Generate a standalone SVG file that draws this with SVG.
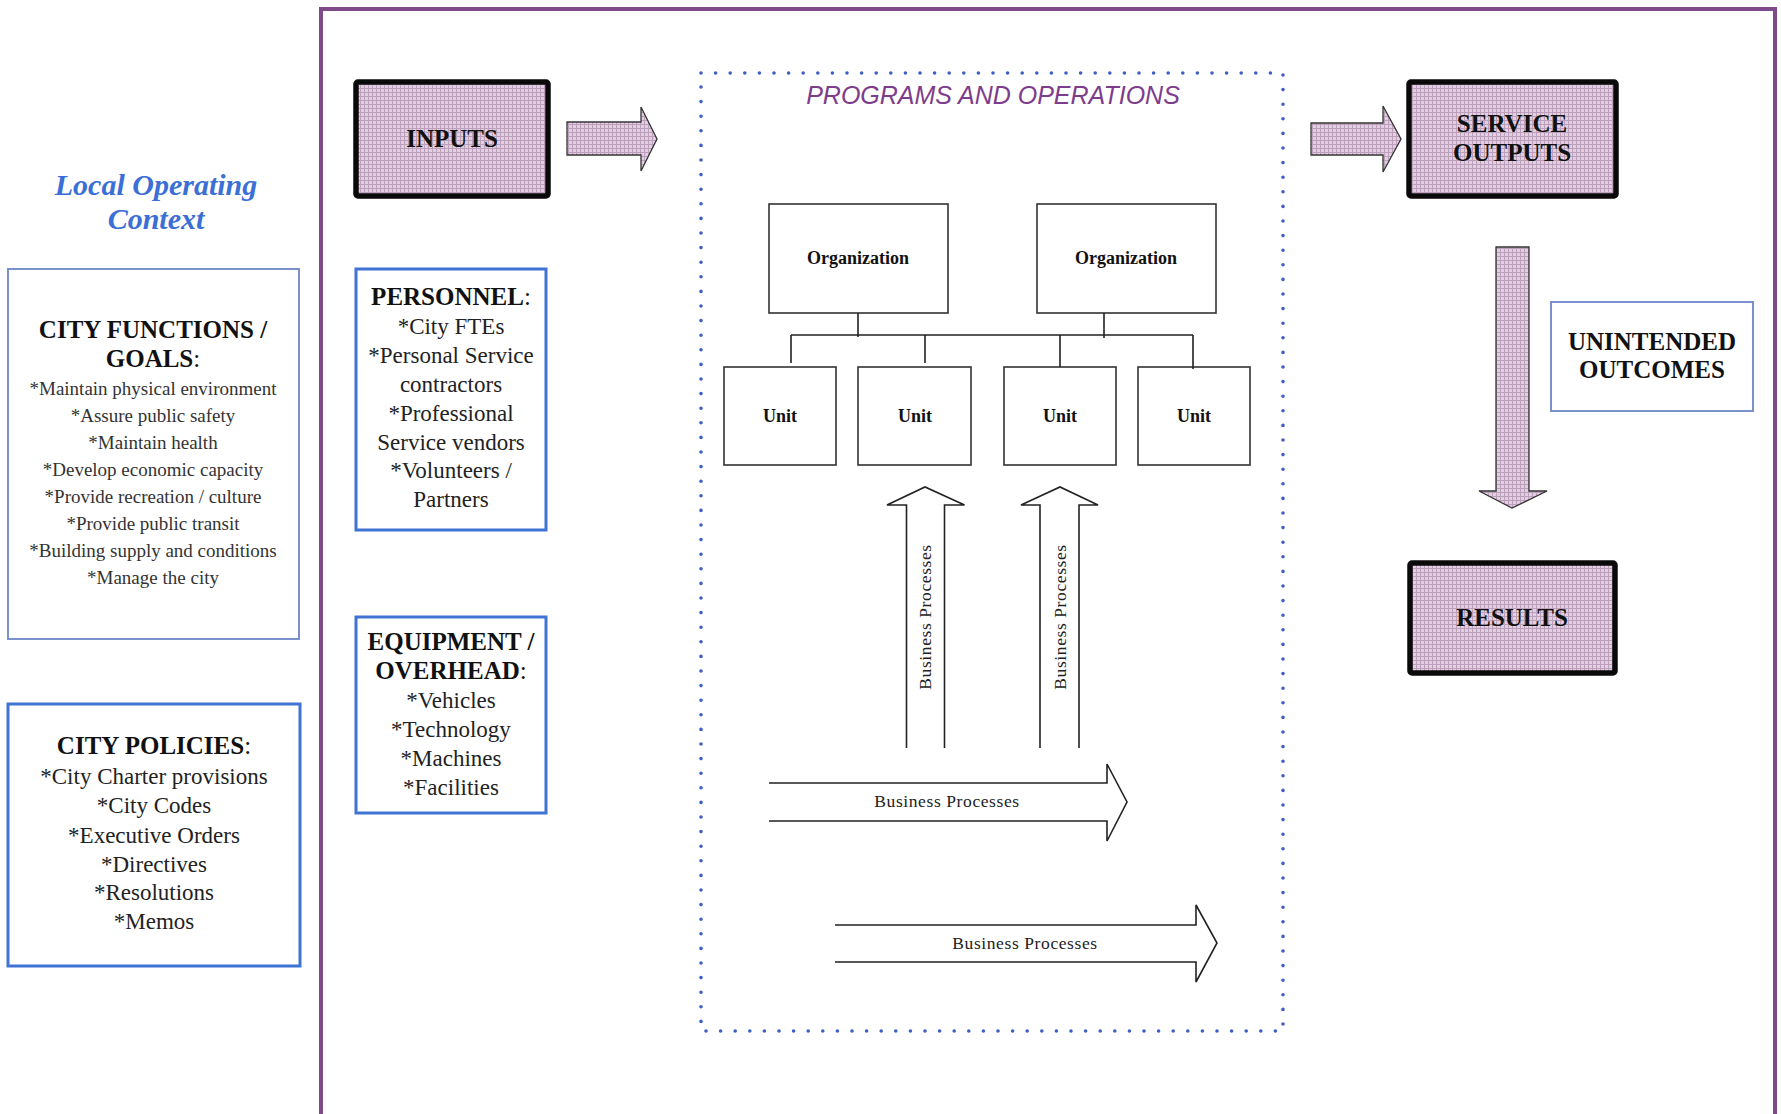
<svg xmlns="http://www.w3.org/2000/svg" width="1781" height="1114" viewBox="0 0 1781 1114">
<defs>
<pattern id="grid" width="4" height="4" patternUnits="userSpaceOnUse">
<rect width="4" height="4" fill="#e2d0e2"/>
<path d="M0 0.5H4M0.5 0V4" stroke="#bb9fbb" stroke-width="1"/>
</pattern>
<style>
.serif{font-family:"Liberation Serif","Times New Roman",serif;}
.hdr{font-family:"Liberation Serif","Times New Roman",serif;font-weight:bold;font-size:25px;fill:#111;text-anchor:middle;}
.item{font-family:"Liberation Serif","Times New Roman",serif;font-size:23px;fill:#222;text-anchor:middle;}
.item2{font-family:"Liberation Serif","Times New Roman",serif;font-size:19px;fill:#333;text-anchor:middle;}
.col{font-weight:normal;}
.pbox{fill:url(#grid);stroke:#0a0a0a;stroke-width:5.5;}
.bbox{fill:#fff;stroke:#3f74d4;stroke-width:3;}
.lbox{fill:#fff;stroke:#6d86c8;stroke-width:1.8;}
.obox{fill:#fff;stroke:#333;stroke-width:1.6;}
.org{font-family:"Liberation Serif","Times New Roman",serif;font-weight:bold;font-size:18px;fill:#111;text-anchor:middle;}
.bp{font-family:"Liberation Serif","Times New Roman",serif;font-size:17.5px;fill:#222;text-anchor:middle;letter-spacing:0.6px;}
.fat{fill:url(#grid);stroke:#333;stroke-width:1.3;}
.open{fill:#fff;stroke:#222;stroke-width:1.6;}
.line{fill:none;stroke:#222;stroke-width:1.6;}
</style>
</defs>
<rect width="1781" height="1114" fill="#fff"/>

<!-- outer frame -->
<path d="M321 1116 V9 H1775 V1116" fill="none" stroke="#7e4a8a" stroke-width="4"/>

<!-- dotted programs box -->
<g id="programs">
<rect x="701" y="73" width="582" height="958" fill="none" stroke="#3b5fc4" stroke-width="3.6" stroke-dasharray="0 14.6" stroke-linecap="round"/>
<text x="993" y="104" font-family="'Liberation Sans',Arial,sans-serif" font-style="italic" font-size="25" fill="#7d3c8c" text-anchor="middle">PROGRAMS AND OPERATIONS</text>
</g>

<g id="context-title">
<text class="serif" x="156" y="195" font-size="30" font-weight="bold" font-style="italic" fill="#3b6fd6" text-anchor="middle">Local Operating</text>
<text class="serif" x="156" y="229" font-size="30" font-weight="bold" font-style="italic" fill="#3b6fd6" text-anchor="middle">Context</text>
</g>

<g id="city-functions">
<rect class="lbox" x="8" y="269" width="291" height="370"/>
<text class="hdr" x="153" y="338">CITY FUNCTIONS /</text>
<text class="hdr" x="153" y="367">GOALS<tspan class="col">:</tspan></text>
<text class="item2" x="153" y="395">*Maintain physical environment</text>
<text class="item2" x="153" y="422">*Assure public safety</text>
<text class="item2" x="153" y="449">*Maintain health</text>
<text class="item2" x="153" y="476">*Develop economic capacity</text>
<text class="item2" x="153" y="503">*Provide recreation  /  culture</text>
<text class="item2" x="153" y="530">*Provide public transit</text>
<text class="item2" x="153" y="557">*Building supply and conditions</text>
<text class="item2" x="153" y="584">*Manage the city</text>
</g>

<g id="city-policies">
<rect class="bbox" x="8" y="704" width="292" height="262"/>
<text class="hdr" x="154" y="754">CITY POLICIES<tspan class="col">:</tspan></text>
<text class="item" x="154" y="784">*City Charter provisions</text>
<text class="item" x="154" y="813">*City Codes</text>
<text class="item" x="154" y="843">*Executive Orders</text>
<text class="item" x="154" y="872">*Directives</text>
<text class="item" x="154" y="900">*Resolutions</text>
<text class="item" x="154" y="929">*Memos</text>
</g>

<g id="inputs">
<rect class="pbox" x="356" y="82" width="192" height="114" rx="2"/>
<text class="hdr" x="452" y="147" font-size="26">INPUTS</text>
</g>

<g id="personnel">
<rect class="bbox" x="356" y="269" width="190" height="261"/>
<text class="hdr" x="451" y="305">PERSONNEL<tspan class="col">:</tspan></text>
<text class="item" x="451" y="334">*City FTEs</text>
<text class="item" x="451" y="363">*Personal Service</text>
<text class="item" x="451" y="392">contractors</text>
<text class="item" x="451" y="421">*Professional</text>
<text class="item" x="451" y="450">Service vendors</text>
<text class="item" x="451" y="478">*Volunteers /</text>
<text class="item" x="451" y="507">Partners</text>
</g>

<g id="equipment">
<rect class="bbox" x="356" y="617" width="190" height="196"/>
<text class="hdr" x="451" y="650">EQUIPMENT /</text>
<text class="hdr" x="451" y="679">OVERHEAD<tspan class="col">:</tspan></text>
<text class="item" x="451" y="708">*Vehicles</text>
<text class="item" x="451" y="737">*Technology</text>
<text class="item" x="451" y="766">*Machines</text>
<text class="item" x="451" y="795">*Facilities</text>
</g>

<g id="org1"><rect class="obox" x="769" y="204" width="179" height="109"/><text class="org" x="858" y="264">Organization</text></g>
<g id="org2"><rect class="obox" x="1037" y="204" width="179" height="109"/><text class="org" x="1126" y="264">Organization</text></g>
<g id="unit1"><rect class="obox" x="724" y="367" width="112" height="98"/><text class="org" x="780" y="422" font-size="19">Unit</text></g>
<g id="unit2"><rect class="obox" x="858" y="367" width="113" height="98"/><text class="org" x="915" y="422" font-size="19">Unit</text></g>
<g id="unit3"><rect class="obox" x="1004" y="367" width="112" height="98"/><text class="org" x="1060" y="422" font-size="19">Unit</text></g>
<g id="unit4"><rect class="obox" x="1138" y="367" width="112" height="98"/><text class="org" x="1194" y="422" font-size="19">Unit</text></g>

<g id="service-outputs">
<rect class="pbox" x="1409" y="82" width="207" height="114" rx="2"/>
<text class="hdr" x="1512" y="132">SERVICE</text>
<text class="hdr" x="1512" y="161">OUTPUTS</text>
</g>

<g id="unintended">
<rect class="lbox" x="1551" y="302" width="202" height="109"/>
<text class="hdr" x="1652" y="350" font-size="27">UNINTENDED</text>
<text class="hdr" x="1652" y="378" font-size="27">OUTCOMES</text>
</g>

<g id="results">
<rect class="pbox" x="1410" y="563" width="205" height="110" rx="2"/>
<text class="hdr" x="1512" y="626">RESULTS</text>
</g>

<g id="connectors">
<path class="fat" d="M567 122 H641 V107 L657 139 L641 171 V155 H567 Z"/>
<path class="fat" d="M1311 123 H1383 V106 L1401 139 L1383 172 V155 H1311 Z"/>
<path class="fat" d="M1496 247 H1529 V491 H1547 L1512 508 L1479 491 H1496 Z"/>
<path class="line" d="M858 313 V337 M1104 313 V338 M791 335 H1193 M791 335 V363 M925 335 V363 M1060 335 V367 M1193 335 V369"/>
<path class="open" d="M906.5 748 V505 H887 L925 487 L964.5 505 H944.5 V748"/>
<path class="open" d="M1040 748 V505 H1021 L1060 487 L1098 505 H1079 V748"/>
<path class="open" d="M769 783 H1107 V764 L1127 802 L1107 841 V821 H769"/>
<path class="open" d="M835 925 H1196 V905 L1217 943 L1196 982 V962 H835"/>
<text class="bp" transform="translate(931 617) rotate(-90)">Business Processes</text>
<text class="bp" transform="translate(1066 617) rotate(-90)">Business Processes</text>
<text class="bp" x="947" y="807">Business Processes</text>
<text class="bp" x="1025" y="949">Business Processes</text>
</g>
</svg>
